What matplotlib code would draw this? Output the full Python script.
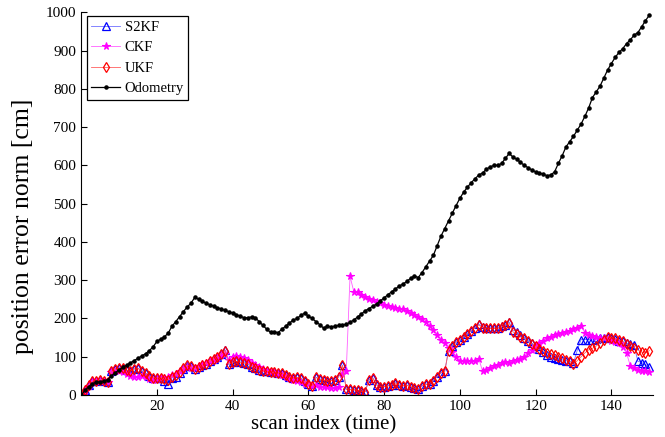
import numpy as np
import matplotlib
matplotlib.use("Agg")
import matplotlib.pyplot as plt

# position error norm [cm] per scan index
odometry = [0, 12, 22, 30, 33, 35, 36, 40, 50, 58,
            66, 72, 78, 84, 90, 96, 102, 108, 116, 126,
            140, 146, 152, 162, 180, 192, 205, 218, 230, 240,
            255, 250, 245, 240, 236, 232, 228, 225, 221, 218,
            214, 210, 206, 202, 202, 204, 202, 192, 182, 172,
            164, 165, 163, 172, 180, 188, 196, 200, 208, 214,
            206, 200, 192, 184, 175, 180, 178, 180, 182, 183,
            185, 190, 196, 204, 212, 220, 226, 232, 238, 246,
            254, 262, 270, 277, 285, 290, 297, 305, 311, 307,
            320, 335, 350, 365, 390, 415, 435, 455, 475, 495,
            514, 530, 543, 555, 565, 575, 580, 590, 596, 600,
            600, 605, 618, 631, 622, 616, 608, 600, 594, 588,
            583, 580, 577, 573, 575, 583, 605, 625, 648, 662,
            676, 692, 708, 728, 750, 777, 792, 807, 828, 849,
            866, 882, 895, 905, 918, 928, 940, 947, 962, 978,
            992]

ukf = [2, 12, 25, 36, 38, 40, 38, 35, 62, 68,
       70, 70, 65, 62, 68, 70, 63, 57, 50, 45,
       44, 45, 43, 40, 48, 52, 60, 70, 78, 75,
       68, 72, 78, 82, 88, 95, 100, 108, 116, 80,
       86, 88, 86, 84, 82, 74, 70, 66, 63, 62,
       60, 60, 58, 57, 53, 48, 44, 46, 44, 36,
       30, 24, 46, 42, 39, 37, 38, 39, 48, 78,
       15, 15, 14, 12, 10, 9, 40, 45, 27, 22,
       22, 24, 26, 32, 26, 24, 26, 22, 18, 15,
       24, 28, 30, 38, 48, 58, 62, 116, 128, 138,
       145, 152, 160, 168, 176, 183, 176, 174, 174, 174,
       174, 178, 182, 189, 165, 160, 152, 148, 140, 134,
       128, 120, 115, 110, 106, 104, 100, 96, 92, 88,
       80, 90, 100, 110, 118, 122, 128, 136, 145, 152,
       150, 148, 144, 140, 133, 128, 124, 118, 112, 110,
       116]

s2kf = [2, 12, 25, 36, 38, 40, 38, 35, 62, 68,
        70, 70, 65, 62, 68, 70, 63, 57, 50, 45,
        44, 45, 38, 28, 45, 48, 58, 68, 76, 75,
        68, 72, 78, 82, 88, 95, 100, 108, 118, 80,
        86, 88, 86, 84, 82, 74, 70, 66, 63, 62,
        60, 60, 58, 57, 53, 48, 44, 46, 44, 36,
        30, 24, 46, 42, 39, 37, 38, 39, 48, 78,
        15, 15, 14, 12, 10, 9, 40, 45, 27, 22,
        22, 24, 26, 32, 26, 24, 26, 22, 18, 15,
        24, 28, 30, 38, 48, 58, 62, 116, 128, 138,
        145, 152, 160, 168, 176, 185, 178, 176, 176, 176,
        176, 180, 184, 191, 170, 165, 158, 150, 142, 135,
        128, 120, 112, 105, 100, 98, 95, 92, 90, 88,
        84, 117, 145, 145, 145, 144, 146, 148, 150, 152,
        150, 146, 142, 140, 136, 133, 130, 88, 85, 80,
        72]

ckf = [2, 10, 24, 34, 36, 38, 36, 35, 60, 62,
       62, 60, 56, 50, 46, 48, 50, 46, 42, 40,
       42, 44, 45, 46, 52, 56, 62, 68, 72, 70,
       70, 75, 80, 84, 88, 92, 98, 104, 108, 92,
       100, 102, 100, 96, 92, 84, 78, 72, 68, 64,
       60, 58, 56, 52, 48, 44, 40, 38, 35, 30,
       28, 24, 26, 22, 20, 20, 18, 18, 20, 55,
       62, 310, 270, 268, 262, 257, 252, 248, 244, 240,
       236, 232, 230, 228, 226, 224, 220, 214, 208, 204,
       198, 190, 180, 170, 158, 145, 135, 122, 112, 100,
       90, 88, 88, 88, 90, 95, 62, 66, 70, 75,
       78, 85, 87, 85, 88, 92, 95, 100, 110, 118,
       128, 135, 142, 148, 152, 157, 160, 162, 165, 168,
       172, 176, 180, 163, 158, 153, 152, 150, 148, 146,
       142, 138, 135, 125, 110, 76, 70, 66, 64, 62,
       61]

scan = np.arange(len(odometry))

plt.rcParams['font.family'] = ['Liberation Serif', 'DejaVu Serif']

fig = plt.figure(figsize=(6.65, 4.37), dpi=100)
ax = fig.add_axes([0.122, 0.096, 0.860, 0.876])

ax.plot(scan, s2kf, color='#7070ff', lw=0.6, marker='^', ms=5.5,
        mfc='none', mec='blue', mew=0.9, label='S2KF')
ax.plot(scan, ckf, color='#ff60ff', lw=0.6, marker='*', ms=5.5,
        mfc='magenta', mec='magenta', mew=0.8, label='CKF')
ax.plot(scan, ukf, color='#ff6060', lw=0.6, marker='d', ms=5.5,
        mfc='none', mec='red', mew=0.9, label='UKF')
ax.plot(scan, odometry, color='black', lw=0.9, marker='.', ms=4.5,
        label='Odometry')

ax.set_xlim(0, 151)
ax.set_ylim(0, 1000)
ax.set_xticks([20, 40, 60, 80, 100, 120, 140])
ax.set_yticks(np.arange(0, 1001, 100))
ax.tick_params(direction='in', length=4, labelsize=11, width=0.8)
ax.spines['top'].set_visible(False)
ax.spines['right'].set_visible(False)

ax.set_xlabel('scan index (time)', fontsize=15)
ax.xaxis.set_label_coords(0.424, -0.053)
ax.set_ylabel('position error norm [cm]', fontsize=18.5)
ax.yaxis.set_label_coords(-0.083, 0.44)

leg = ax.legend(loc='upper left', bbox_to_anchor=(0.01, 0.99), fontsize=10.5,
                fancybox=False, framealpha=1, edgecolor='black',
                borderpad=0.3, labelspacing=0.5, handlelength=2.0,
                handletextpad=0.3, borderaxespad=0)
leg.get_frame().set_linewidth(0.9)

fig.savefig('out.png', dpi=100)
